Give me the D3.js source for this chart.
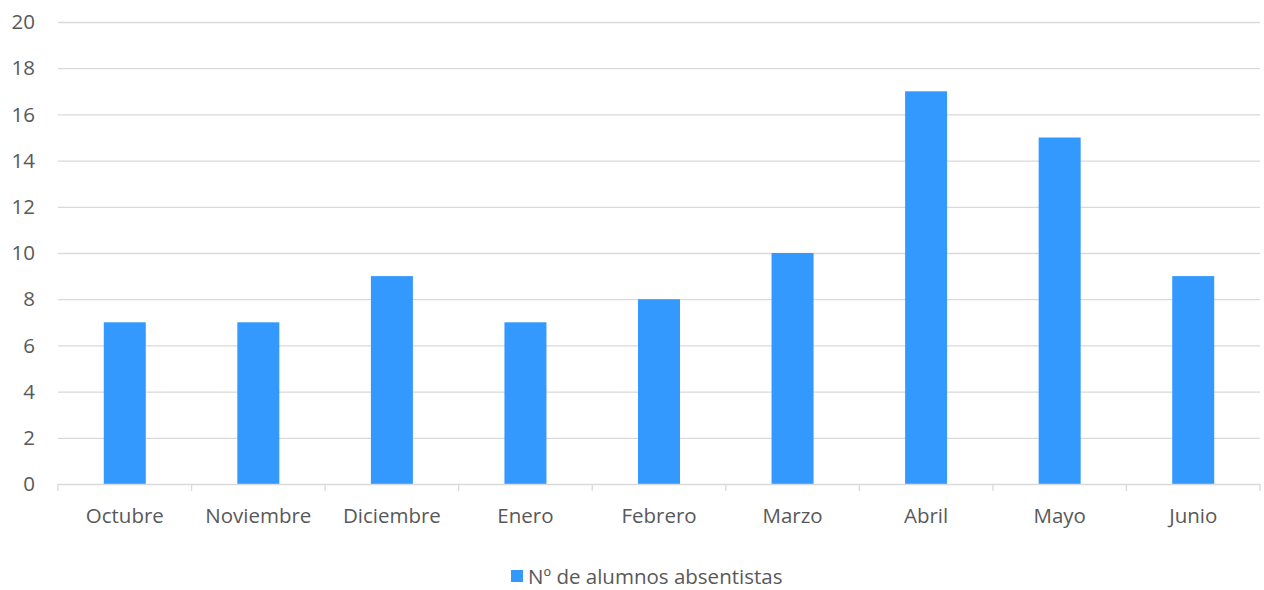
<!DOCTYPE html>
<html><head><meta charset="utf-8">
<script src="https://cdn.jsdelivr.net/npm/d3@7"></script>
<style>body{margin:0;background:#fff}svg{display:block}text{font-family:"Open Sans",sans-serif;fill:#595959}</style>
</head><body><svg id="c" width="1264" height="590"></svg>
<script>
const categories = ["Octubre","Noviembre","Diciembre","Enero","Febrero","Marzo","Abril","Mayo","Junio"];
const values = [7,7,9,7,8,10,17,15,9];
const yTicks = [0,2,4,6,8,10,12,14,16,18,20];
const seriesName = "Nº de alumnos absentistas";

(function(){
const svg = d3.select("#c");
const mL = 58, mR = 1260, mT = 22, mB = 484;
const fs = 20.5;
const x = d3.scaleBand().domain(categories).range([mL, mR]).paddingInner(0).paddingOuter(0);
const y = d3.scaleLinear().domain([0,20]).range([mB, mT]);
const color = "#3399FF";

svg.append("g").selectAll("line").data(yTicks.filter(d=>d>0)).join("line")
  .attr("x1", mL).attr("x2", mR).attr("y1", d=>y(d)+0.5).attr("y2", d=>y(d)+0.5)
  .attr("stroke", "#d9d9d9").attr("stroke-width", 1.3);

svg.append("g").selectAll("text").data(yTicks).join("text")
  .attr("x", 35).attr("y", d=>y(d)).attr("dy","0.35em").attr("text-anchor","end")
  .attr("font-size", fs).text(d=>d);

const bw = 42;
svg.append("g").selectAll("rect").data(values).join("rect")
  .attr("x", (d,i)=>x(categories[i]) + x.bandwidth()/2 - bw/2)
  .attr("width", bw)
  .attr("y", d=>y(d)).attr("height", d=>y(0)-y(d))
  .attr("fill", color);

svg.append("line").attr("x1", mL).attr("x2", mR).attr("y1", mB+0.5).attr("y2", mB+0.5)
  .attr("stroke","#d9d9d9").attr("stroke-width",1.3);
const tickPos = categories.map(c=>x(c)).concat([mR]);
svg.append("g").selectAll("line").data(tickPos).join("line")
  .attr("x1", d=>d).attr("x2", d=>d).attr("y1", mB).attr("y2", mB+7)
  .attr("stroke","#d9d9d9").attr("stroke-width",1.3);
svg.append("g").selectAll("text").data(categories).join("text")
  .attr("x", d=>x(d)+x.bandwidth()/2).attr("y", 516).attr("dy","0.35em").attr("text-anchor","middle")
  .attr("font-size", fs).text(d=>d);

const lg = svg.append("g");
lg.append("rect").attr("x", 511).attr("y", 570).attr("width", 12).attr("height", 12).attr("fill", color);
lg.append("text").attr("x", 528).attr("y", 577).attr("dy","0.35em").attr("font-size", fs).text(seriesName);
})();
</script></body></html>
